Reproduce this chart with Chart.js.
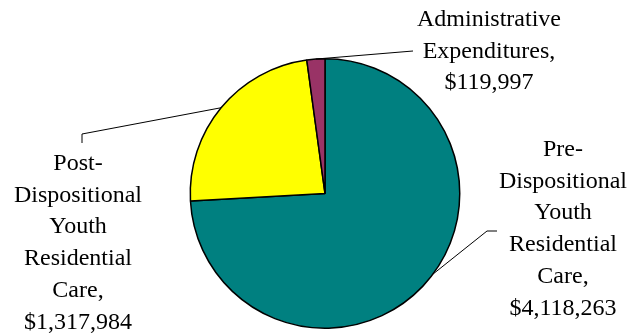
<!DOCTYPE html>
<html>
<head>
<meta charset="utf-8">
<script src="https://cdn.jsdelivr.net/npm/chart.js@4/dist/chart.umd.min.js"></script>
<style>
  html, body { margin: 0; padding: 0; background: #fff; }
  #wrap { width: 631px; height: 335px; position: relative; }
</style>
</head>
<body>
<div id="wrap"><canvas id="budgetPie"></canvas></div>
<script>
// data
const categories = [
  'Pre-Dispositional Youth Residential Care',
  'Post-Dispositional Youth Residential Care',
  'Administrative Expenditures'
];
const amounts = [4118263, 1317984, 119997];
const labelLines = [
  ['Pre-', 'Dispositional', 'Youth', 'Residential', 'Care,'],
  ['Post-', 'Dispositional', 'Youth', 'Residential', 'Care,'],
  ['Administrative', 'Expenditures,']
];
const sliceColors = ['#008080', '#FFFF00', '#993366'];

// where each label sits and how its leader line bends
const labelPlacement = [
  { cx: 563, top: 156, along: 0.475, path: [[487, 231], [497, 231]] },
  { cx: 78, top: 170, along: 0.5, path: [[82, 134], [82, 143]] },
  { cx: 489, top: 26, along: 0.5, path: [[413, 51]] }
];
const lineHeight = 31.7;

const money = v => '$' + v.toLocaleString('en-US');

const calloutPlugin = {
  id: 'callouts',
  afterDatasetsDraw(chart) {
    const ctx = chart.ctx;
    const arcs = chart.getDatasetMeta(0).data;
    ctx.save();
    ctx.strokeStyle = '#000';
    ctx.lineWidth = 1;
    arcs.forEach((arc, i) => {
      const p = labelPlacement[i];
      const a = arc.startAngle + (arc.endAngle - arc.startAngle) * p.along;
      ctx.beginPath();
      ctx.moveTo(arc.x + arc.outerRadius * Math.cos(a), arc.y + arc.outerRadius * Math.sin(a));
      p.path.forEach(pt => ctx.lineTo(pt[0], pt[1]));
      ctx.stroke();

      ctx.fillStyle = '#000';
      ctx.font = '24px "Liberation Serif", "Times New Roman", serif';
      ctx.textAlign = 'center';
      ctx.textBaseline = 'alphabetic';
      const lines = labelLines[i].concat([money(amounts[i])]);
      lines.forEach((t, k) => ctx.fillText(t, p.cx, p.top + k * lineHeight));
    });
    ctx.restore();
  }
};

new Chart(document.getElementById('budgetPie'), {
  type: 'pie',
  data: {
    labels: categories,
    datasets: [{
      data: amounts,
      backgroundColor: sliceColors,
      borderColor: '#000',
      borderWidth: 1.5,
      hoverOffset: 0
    }]
  },
  options: {
    responsive: true,
    maintainAspectRatio: false,
    animation: false,
    layout: { padding: { top: 58, bottom: 6, left: 189, right: 170 } },
    plugins: {
      legend: { display: false },
      tooltip: { enabled: false }
    }
  },
  plugins: [calloutPlugin]
});
</script>
</body>
</html>
